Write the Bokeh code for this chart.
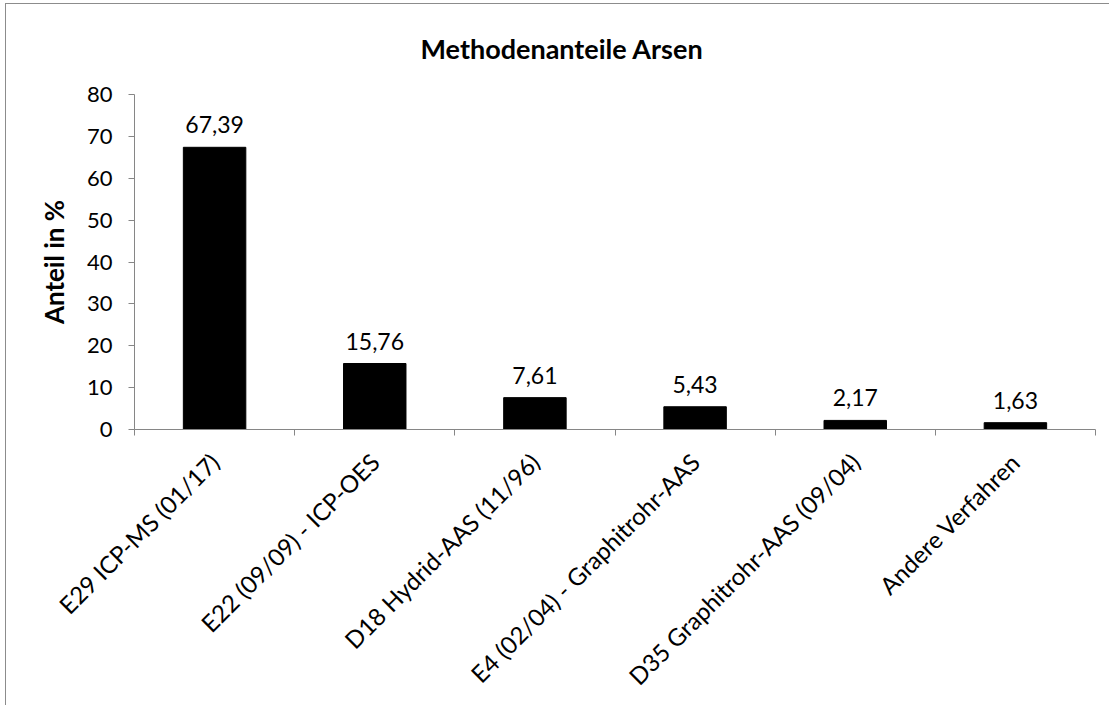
import math
from bokeh.plotting import figure
from bokeh.models import FixedTicker, Title, ColumnDataSource, Range1d
from bokeh.core.properties import value
from bokeh.embed import file_html
from bokeh.resources import INLINE

categories = ["E29 ICP-MS (01/17)", "E22 (09/09) - ICP-OES", "D18 Hydrid-AAS (11/96)",
              "E4 (02/04) - Graphitrohr-AAS", "D35 Graphitrohr-AAS (09/04)", "Andere Verfahren"]
values = [67.39, 15.76, 7.61, 5.43, 2.17, 1.63]
value_labels = ["67,39", "15,76", "7,61", "5,43", "2,17", "1,63"]
y_ticks = [0, 10, 20, 30, 40, 50, 60, 70, 80]

FONT = "Lato"
centers = [i + 0.5 for i in range(len(categories))]
src = ColumnDataSource(dict(x=centers, top=values, lab=value_labels))

p = figure(width=1104, height=702, output_backend="svg", toolbar_location=None,
           x_range=Range1d(0, len(categories)), y_range=Range1d(0, 80),
           min_border_left=128, min_border_right=15, min_border_top=89, min_border_bottom=277,
           background_fill_color="white", border_fill_color="white")
p.styles = {"border-left": "1px solid #8c8c8c", "border-top": "1px solid #8c8c8c",
            "margin-left": "5px", "margin-top": "3px"}
p.outline_line_color = None
p.grid.visible = False

p.vbar(x="x", top="top", width=0.39, bottom=0, source=src, fill_color="black", line_color="black")
p.text(x="x", y="top", text="lab", source=src, text_align="center", text_baseline="bottom",
       y_offset=-14, text_font=value(FONT), text_font_size="23px", text_color="black")

# axes
ax = p.xaxis[0]
ax.ticker = FixedTicker(ticks=centers, minor_ticks=list(range(len(categories) + 1)))
ax.major_label_overrides = {c: n for c, n in zip(centers, categories)}
ax.major_label_orientation = math.pi / 4
ax.major_tick_out = 0
ax.major_tick_in = 0
ax.minor_tick_out = 6
ax.minor_tick_in = 0
ax.axis_line_color = "#868686"
ax.minor_tick_line_color = "#868686"
ax.major_label_text_font = FONT
ax.major_label_text_font_size = "24px"
ax.major_label_text_color = "black"
ax.major_label_standoff = 22

ay = p.yaxis[0]
ay.ticker = FixedTicker(ticks=y_ticks)
ay.major_tick_out = 6
ay.major_tick_in = 0
ay.minor_tick_out = 0
ay.minor_tick_in = 0
ay.axis_line_color = "#868686"
ay.major_tick_line_color = "#868686"
ay.major_label_text_font = FONT
ay.major_label_text_font_size = "22px"
ay.major_label_text_color = "black"
ay.major_label_standoff = 16
ay.axis_label = "Anteil in %"
ay.axis_label_text_font = FONT
ay.axis_label_text_font_size = "26px"
ay.axis_label_text_font_style = "bold"
ay.axis_label_text_color = "black"
ay.axis_label_standoff = 14

p.add_layout(Title(text="Methodenanteile Arsen", align="left", offset=286,
                   vertical_align="top",
                   text_font=FONT, text_font_size="27px", text_font_style="bold",
                   text_color="black", standoff=55), "above")

open("out.html", "w").write(file_html(p, INLINE))
